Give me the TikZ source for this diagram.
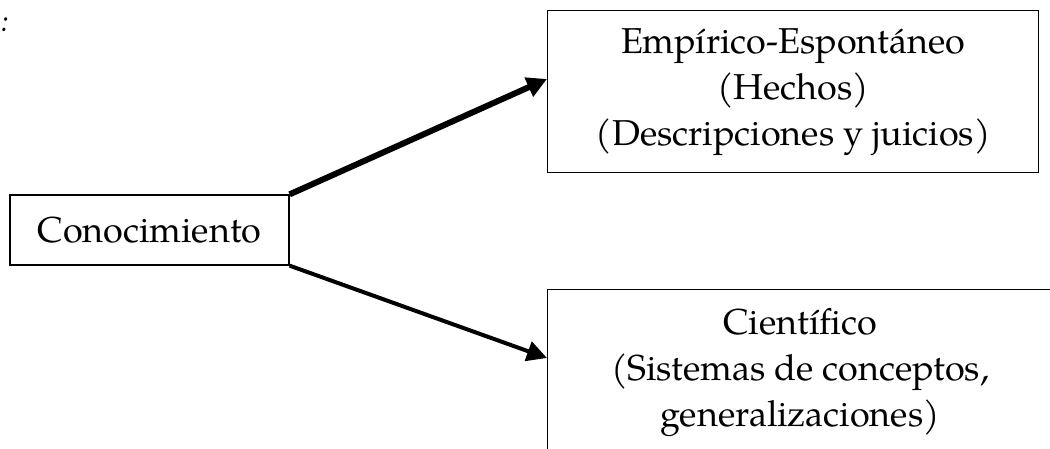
\documentclass[tikz,border=0pt]{standalone}
\usepackage{fontspec}
\setmainfont{TeX Gyre Pagella}
\usetikzlibrary{arrows.meta}
\tikzset{
  box/.style={draw, line width=1.3pt, rectangle, align=center, inner sep=0pt,
    font=\fontsize{36}{46}\selectfont},
  link/.style={-{Triangle[length=20pt,width=20pt]}},
}
\begin{document}
\begin{tikzpicture}[x=1pt,y=-1pt]
\useasboundingbox (0,0) rectangle (1050,448);
\clip (0,0) rectangle (1050,448);
\node[anchor=base, font=\fontsize{30}{46}\selectfont\itshape] (colon) at (5,31) {:};
\node[box, minimum width=279pt, minimum height=70pt] (con) at (149.5,230) {Conocimiento};
\node[box, anchor=north west, minimum width=491pt, minimum height=162pt] (emp) at (547,10)
  {Empírico-Espontáneo\\(Hechos)\\(Descripciones y juicios)};
\node[box, anchor=north west, minimum width=505pt, minimum height=165pt] (cie) at (547,289)
  {Científico\\(Sistemas de conceptos,\\generalizaciones)};
\coordinate (empin) at ([yshift=-69pt]emp.north west);
\coordinate (ciein) at ([yshift=-69pt]cie.north west);
\draw[link, line width=6pt] (con.north east) -- (empin);
\draw[link, line width=4pt] (con.south east) -- (ciein);
\end{tikzpicture}
\end{document}
